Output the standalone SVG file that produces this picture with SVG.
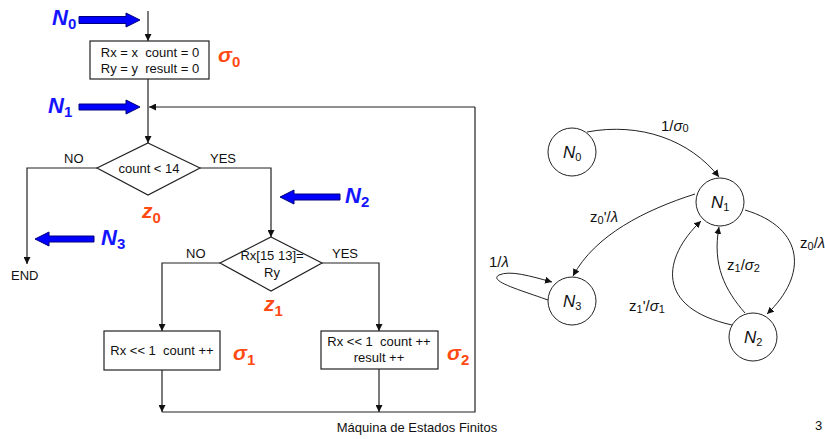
<svg xmlns="http://www.w3.org/2000/svg" width="825" height="439" viewBox="0 0 825 439">
<style>
.ln{fill:none;stroke:#222;stroke-width:1.2}
.bx{fill:#fff;stroke:#222;stroke-width:1.2}
.t{font-family:"Liberation Sans",Arial,sans-serif;font-size:13px;fill:#111;white-space:pre}
.blue{font-family:"Liberation Sans",Arial,sans-serif;font-size:22px;font-weight:bold;font-style:italic;fill:#1414ff}
.red{font-family:"Liberation Sans",Arial,sans-serif;font-size:21px;font-weight:bold;font-style:italic;fill:#ff4a14}
.sub{font-size:15px;font-style:normal}
.barrow{fill:#0000ff;stroke:#00007a;stroke-width:1}
.st{fill:#fff;stroke:#222;stroke-width:1}
.sn{font-family:"Liberation Sans",Arial,sans-serif;font-size:17px;font-style:italic;fill:#111}
.el{font-family:"Liberation Sans",Arial,sans-serif;font-size:15px;fill:#111}
.ss{font-size:11px;font-style:normal}
.sc{fill:none;stroke:#222;stroke-width:1}
</style>
<defs>
<marker id="ah" viewBox="0 0 10 10" refX="10" refY="5" markerWidth="7" markerHeight="7" markerUnits="userSpaceOnUse" orient="auto"><path d="M0,0 L10,5 L0,10 Z" fill="#111"/></marker>
<marker id="sh" viewBox="0 0 10 10" refX="10" refY="5" markerWidth="7" markerHeight="7" markerUnits="userSpaceOnUse" orient="auto"><path d="M0,0 L10,5 L0,10 Z" fill="#111"/></marker>
</defs>

<g id="connectors">
<path class="ln" d="M148,11 V41" marker-end="url(#ah)"/>
<path class="ln" d="M148,79 V143" marker-end="url(#ah)"/>
<path class="ln" d="M475,107 H149" marker-end="url(#ah)"/>
<path class="ln" d="M475,107 V412 H162"/>
<path class="ln" d="M97,168 H27 V264" marker-end="url(#ah)"/>
<path class="ln" d="M200,168 H271 V237" marker-end="url(#ah)"/>
<path class="ln" d="M220,263 H162 V331" marker-end="url(#ah)"/>
<path class="ln" d="M322,263 H379 V331" marker-end="url(#ah)"/>
<path class="ln" d="M162,370 V412" marker-end="url(#ah)"/>
<path class="ln" d="M379,369 V412" marker-end="url(#ah)"/>
<path class="sc" d="M587,132 C640,122 690,140 719,177" marker-end="url(#sh)"/>
<path class="sc" d="M695,194 C645,210 595,235 573,276" marker-end="url(#sh)"/>
<path class="sc" d="M745,210 C805,228 808,275 767,314" marker-end="url(#sh)"/>
<path class="sc" d="M745,313 C725,290 712,265 719,227" marker-end="url(#sh)"/>
<path class="sc" d="M732,325 C655,308 662,258 701,221" marker-end="url(#sh)"/>
<path class="sc" d="M548,300 C520,290 488,281 499,275 C510,270 530,276 552,282" marker-end="url(#sh)"/>
</g>

<g id="init">
<rect class="bx" x="90" y="41" width="119" height="38"/>
<text class="t" x="150" y="57" text-anchor="middle" xml:space="preserve">Rx = x  count = 0</text>
<text class="t" x="150" y="73" text-anchor="middle" xml:space="preserve">Ry = y  result = 0</text>
</g>
<g id="dec0">
<path class="bx" d="M148,143 L200,168 L148,195 L97,168 Z"/>
<text class="t" x="149" y="173" text-anchor="middle">count &lt; 14</text>
<text class="t" x="64" y="163">NO</text>
<text class="t" x="210" y="163">YES</text>
</g>
<g id="end">
<text class="t" x="11" y="280">END</text>
</g>
<g id="dec1">
<path class="bx" d="M271,237 L322,263 L271,291 L220,263 Z"/>
<text class="t" x="272" y="260" text-anchor="middle">Rx[15 13]=</text>
<text class="t" x="272" y="277" text-anchor="middle">Ry</text>
<text class="t" x="186" y="258">NO</text>
<text class="t" x="332" y="258">YES</text>
</g>
<g id="box1">
<rect class="bx" x="104" y="331" width="116" height="39"/>
<text class="t" x="162" y="355" text-anchor="middle" xml:space="preserve">Rx &lt;&lt; 1  count ++</text>
</g>
<g id="box2">
<rect class="bx" x="321" y="331" width="117" height="38"/>
<text class="t" x="379" y="346" text-anchor="middle" xml:space="preserve">Rx &lt;&lt; 1  count ++</text>
<text class="t" x="379" y="362" text-anchor="middle">result ++</text>
</g>

<g id="nlabels">
<text class="blue" x="52" y="25">N<tspan class="sub" dy="4">0</tspan></text>
<path class="barrow" d="M79,16.5 H126 V13 L140,20 L126,27 V23.5 H79 Z"/>
<text class="blue" x="48" y="113">N<tspan class="sub" dy="4">1</tspan></text>
<path class="barrow" d="M79,104 H126 V100 L140,107 L126,114 V110 H79 Z"/>
<text class="blue" x="345" y="203">N<tspan class="sub" dy="4">2</tspan></text>
<path class="barrow" d="M340,194 H294 V190 L280,197 L294,204 V200 H340 Z"/>
<text class="blue" x="101" y="245">N<tspan class="sub" dy="4">3</tspan></text>
<path class="barrow" d="M94,236 H49 V232 L35,239 L49,246 V242 H94 Z"/>
</g>
<g id="rlabels">
<text class="red" x="218" y="62">σ<tspan class="sub" dy="5">0</tspan></text>
<text class="red" x="142" y="218">z<tspan class="sub" dy="5">0</tspan></text>
<text class="red" x="264" y="311">z<tspan class="sub" dy="5">1</tspan></text>
<text class="red" x="233" y="360">σ<tspan class="sub" dy="5">1</tspan></text>
<text class="red" x="447" y="360">σ<tspan class="sub" dy="5">2</tspan></text>
</g>

<g id="S0"><circle class="st" cx="572" cy="152" r="24"/><text class="sn" x="563" y="158">N<tspan class="ss" dy="3">0</tspan></text></g>
<g id="S1"><circle class="st" cx="720" cy="202" r="24"/><text class="sn" x="711" y="208">N<tspan class="ss" dy="3">1</tspan></text></g>
<g id="S2"><circle class="st" cx="753" cy="337" r="24"/><text class="sn" x="744" y="343">N<tspan class="ss" dy="3">2</tspan></text></g>
<g id="S3"><circle class="st" cx="572" cy="301" r="24"/><text class="sn" x="563" y="307">N<tspan class="ss" dy="3">3</tspan></text></g>

<g id="elabels">
<text class="el" x="661" y="131">1/<tspan font-style="italic">σ</tspan><tspan class="ss" dy="1">0</tspan></text>
<text class="el" x="590" y="222">z<tspan class="ss" dy="2">0</tspan><tspan dy="-2">'/</tspan><tspan font-style="italic">λ</tspan></text>
<text class="el" x="800" y="248">z<tspan class="ss" dy="2">0</tspan><tspan dy="-2">/</tspan><tspan font-style="italic">λ</tspan></text>
<text class="el" x="727" y="270">z<tspan class="ss" dy="2">1</tspan><tspan dy="-2">/</tspan><tspan font-style="italic">σ</tspan><tspan class="ss" dy="2">2</tspan></text>
<text class="el" x="629" y="311">z<tspan class="ss" dy="2">1</tspan><tspan dy="-2">'/</tspan><tspan font-style="italic">σ</tspan><tspan class="ss" dy="2">1</tspan></text>
<text class="el" x="489" y="267">1/<tspan font-style="italic">λ</tspan></text>
</g>

<text class="t" x="417" y="432" text-anchor="middle">Máquina de Estados Finitos</text>
<text class="t" x="815" y="430" font-size="11">3</text>
</svg>
